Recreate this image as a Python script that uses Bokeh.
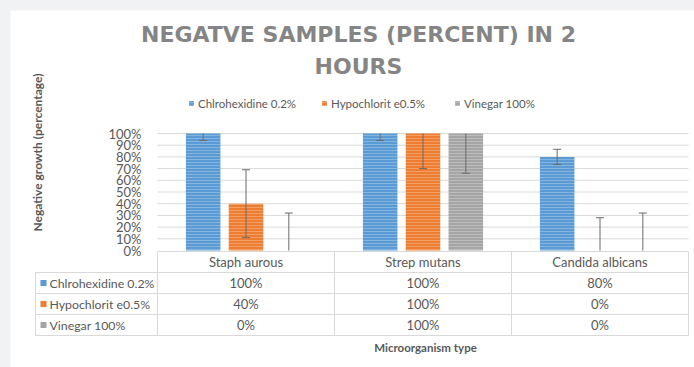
from bokeh.plotting import figure
from bokeh.models import (Range1d, Label, Legend, LegendItem, PrintfTickFormatter, FixedTicker)
from bokeh.embed import file_html
from bokeh.resources import INLINE
from bokeh.core.properties import value

# ---------------- data ----------------
categories = ["Staph aurous", "Strep mutans", "Candida albicans"]
series_names = ["Chlrohexidine 0.2%", "Hypochlorit e0.5%", "Vinegar 100%"]
chlorhexidine = [100, 100, 80]
hypochlorite = [40, 100, 0]
vinegar = [0, 100, 0]
err_chlorhexidine = [6, 6, 6.5]
err_hypochlorite = [29, 30, 28]
err_vinegar = [32, 34, 32]
y_ticks = [0, 10, 20, 30, 40, 50, 60, 70, 80, 90, 100]

colors = ["#5b9bd5", "#ed7d31", "#a5a5a5"]
offsets = [-0.242, 0.0, 0.242]
values = [chlorhexidine, hypochlorite, vinegar]
errors = [err_chlorhexidine, err_hypochlorite, err_vinegar]

FONT = "Lato"
TXT = "#595959"
GRID = "#d9d9d9"
ERR = "#6b6b6b"

# ---------------- layout geometry (pixels on the page) ----------------
ORIGIN_X, ORIGIN_Y = 10, 10          # figure origin on the page
W, H = 684, 357
PLOT_L, PLOT_R, PLOT_T, PLOT_B = 157, 688, 133, 250
CAT_W = (PLOT_R - PLOT_L) / 3.0
PX_PER_UNIT = (PLOT_B - PLOT_T) / 100.0


def xs(px):
    return (px - PLOT_L) / CAT_W


def ys(py):
    return (PLOT_B - py) / PX_PER_UNIT


p = figure(width=W, height=H,
           x_range=Range1d(xs(ORIGIN_X), xs(ORIGIN_X + W)),
           y_range=Range1d(ys(ORIGIN_Y + H), ys(ORIGIN_Y)),
           output_backend="svg", toolbar_location=None,
           min_border_left=0, min_border_right=0, min_border_top=0, min_border_bottom=0)
p.outline_line_color = None
p.xaxis.visible = False
p.grid.grid_line_color = None

# y axis placed at the left edge of the plot area
p.yaxis.fixed_location = 0
p.yaxis.bounds = (0, 100)
p.yaxis.ticker = FixedTicker(ticks=y_ticks)
p.yaxis.formatter = PrintfTickFormatter(format="%d%%")
p.yaxis.axis_line_color = None
p.yaxis.major_tick_line_color = None
p.yaxis.minor_tick_line_color = None
p.yaxis.major_label_text_font = FONT
p.yaxis.major_label_text_font_size = "13px"
p.yaxis.major_label_text_color = TXT
p.yaxis.major_label_standoff = 10

ncat = len(categories)
nser = len(series_names)

# horizontal gridlines over the plot area
p.segment(x0=[0] * len(y_ticks[1:]), x1=[ncat] * len(y_ticks[1:]), y0=y_ticks[1:], y1=y_ticks[1:],
          line_color=GRID, line_width=1)

legend_items = []
for name, vals, errs, col, off in zip(series_names, values, errors, colors, offsets):
    xpos = [i + 0.5 + off for i in range(ncat)]
    r = p.vbar(x=xpos, top=vals, bottom=0, width=0.195,
               fill_color=col, line_color=None,
               hatch_pattern="horizontal_line", hatch_color="white", hatch_alpha=0.25,
               hatch_scale=3, hatch_weight=1)
    legend_items.append(LegendItem(label=name, renderers=[r]))
    lo = [v - e for v, e in zip(vals, errs)]
    hi = [v + e for v, e in zip(vals, errs)]
    p.segment(x0=xpos, x1=xpos, y0=[max(a, 0) for a in lo], y1=[min(b, 100) for b in hi],
              line_color=ERR, line_width=1)
    cap_x = [x for x, a in zip(xpos, lo) if a >= 0] + [x for x, b in zip(xpos, hi) if b <= 100]
    cap_y = [a for a in lo if a >= 0] + [b for b in hi if b <= 100]
    p.scatter(x=cap_x, y=cap_y, marker="dash", size=8, line_color=ERR, line_width=1)

legend = Legend(items=legend_items, orientation="horizontal",
                location=(188 - ORIGIN_X, ORIGIN_Y + H - 110),
                label_text_font=FONT, label_text_font_size="11.5px", label_text_color=TXT,
                glyph_width=6, glyph_height=6, label_standoff=4, label_width=123,
                label_height=14, spacing=0,
                background_fill_alpha=0, border_line_color=None, padding=0, margin=0)
p.add_layout(legend, "center")

TITLE_COL = "#858585"
TITLE_FONT = "DejaVu Sans"
p.add_layout(Label(x=xs(358), y=ys(34), text="NEGATVE SAMPLES (PERCENT) IN 2",
                   text_align="center", text_baseline="middle", text_font=TITLE_FONT,
                   text_font_style="bold", text_font_size="22px", text_color=TITLE_COL))
p.add_layout(Label(x=xs(358), y=ys(66), text="HOURS",
                   text_align="center", text_baseline="middle", text_font=TITLE_FONT,
                   text_font_style="bold", text_font_size="22px", text_color=TITLE_COL))
p.add_layout(Label(x=xs(37), y=ys(152), angle=1.5708, text="Negative growth (percentage)",
                   text_align="center", text_baseline="middle", text_font=FONT,
                   text_font_style="bold", text_font_size="12px", text_color=TXT))

# ---------------- data table ----------------
TAB_L = 35
rows_px = [251, 272, 293, 314, 335]
row_y = [ys(r) for r in rows_px]
# horizontal lines
p.segment(x0=[0] + [xs(TAB_L)] * nser + [xs(TAB_L)], x1=[ncat] * (nser + 2),
          y0=row_y, y1=row_y, line_color=GRID, line_width=1)
# vertical lines
p.segment(x0=list(range(ncat + 1)) + [xs(TAB_L)], x1=list(range(ncat + 1)) + [xs(TAB_L)],
          y0=[row_y[-1]] * (ncat + 2), y1=[row_y[0]] * (ncat + 1) + [row_y[1]],
          line_color=GRID, line_width=1)

row_c = [(row_y[k] + row_y[k + 1]) / 2 for k in range(len(row_y) - 1)]
p.text(x=[i + 0.5 for i in range(ncat)], y=[row_c[0]] * ncat, text=categories,
       text_align="center", text_baseline="middle", text_font=value(FONT),
       text_font_size="13px", text_color=TXT)
for j, (name, vals, col) in enumerate(zip(series_names, values, colors)):
    yc = row_c[j + 1]
    p.text(x=[i + 0.5 for i in range(ncat)], y=[yc] * ncat, text=[f"{v}%" for v in vals],
           text_align="center", text_baseline="middle", text_font=value(FONT),
           text_font_size="13px", text_color=TXT)
    p.scatter(x=[xs(43)], y=[yc], marker="square", size=6, fill_color=col, line_color=None)
    p.text(x=[xs(49)], y=[yc], text=[name], text_align="left", text_baseline="middle",
           text_font=value(FONT), text_font_size="12.3px", text_color=TXT)

p.add_layout(Label(x=xs(425), y=ys(347), text="Microorganism type",
                   text_align="center", text_baseline="middle", text_font=FONT,
                   text_font_style="bold", text_font_size="11.5px", text_color=TXT))

html = file_html(p, INLINE)
style = ("<style>html, body { margin: 0 !important; } body { background: #f1f2f4 !important; "
         "padding: 10px 0 0 10px !important; box-sizing: border-box; }</style>")
html = html.replace("</head>", style + "</head>", 1)
open("out.html", "w").write(html)
